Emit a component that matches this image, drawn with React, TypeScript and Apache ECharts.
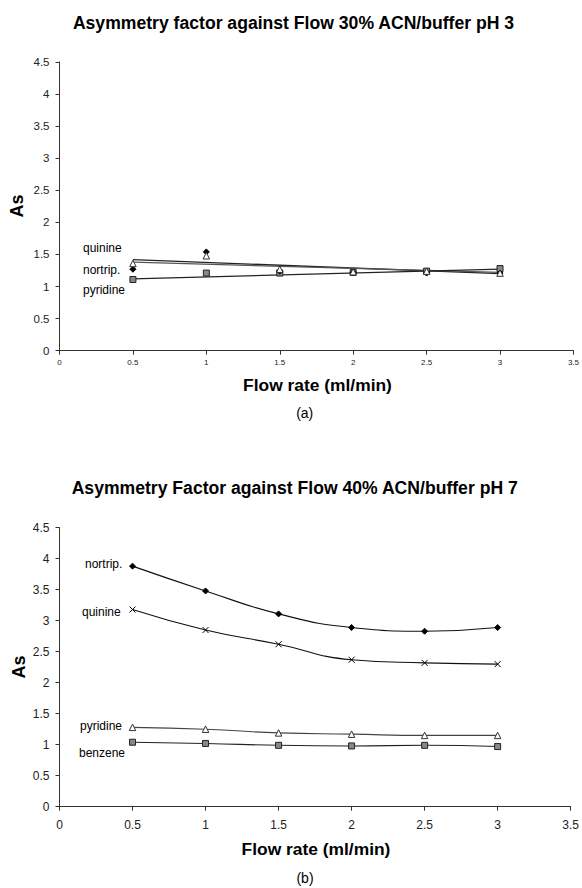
import React, { useEffect, useRef } from "react";
import * as echarts from "echarts";

// Flow rates (ml/min)
const flowRates = [0.5, 1, 1.5, 2, 2.5, 3];

// (a) 30% ACN / buffer pH 3
const topQuinine = [1.36, 1.48, 1.27, 1.23, 1.24, 1.21];
const topNortrip = [1.27, 1.54, 1.24, 1.22, 1.21, 1.21];
const topPyridine = [1.11, 1.21, 1.21, 1.22, 1.24, 1.28];
// linear trendline ends at x = 0.5 and x = 3
const trendX = [0.5, 3];
const topQuinineTrend = [1.42, 1.2];
const topNortripTrend = [1.38, 1.22];
const topPyridineTrend = [1.12, 1.27];

// (b) 40% ACN / buffer pH 7
const botNortrip = [3.88, 3.48, 3.11, 2.89, 2.83, 2.89];
const botQuinine = [3.18, 2.85, 2.62, 2.37, 2.32, 2.3];
const botPyridine = [1.28, 1.25, 1.19, 1.17, 1.15, 1.15];
const botBenzene = [1.04, 1.02, 0.99, 0.98, 0.99, 0.97];

const xTicksMax = 3.5;
const yTicksMax = 4.5;

const FONT = "'Liberation Sans', Arial, Helvetica, sans-serif";

const pairs = (xs: number[], ys: number[]) => xs.map((x, i) => [x, ys[i]]);

const XMARK = "path://M0,0L10,10M10,0L0,10";

function txt(
  text: string,
  x: number,
  y: number,
  size: number,
  weight: string,
  align: string,
  rotation = 0
) {
  return {
    type: "text",
    x,
    y,
    rotation,
    silent: true,
    style: {
      text,
      fill: "#000",
      font: `${weight} ${size}px ${FONT}`,
      fontSize: size,
      fontWeight: weight,
      fontFamily: FONT,
      textAlign: align,
      textVerticalAlign: "middle",
      align,
      verticalAlign: "middle",
    },
  };
}

export default function App() {
  const ref = useRef<HTMLDivElement>(null);
  useEffect(() => {
    document.body.style.margin = "0";
    if (!ref.current) return;
    const chart = echarts.init(ref.current, undefined, { renderer: "svg" });

    const axisCommon = (labelSize: number, margin: number) => ({
      type: "value",
      min: 0,
      interval: 0.5,
      axisLine: { show: true, lineStyle: { color: "#333", width: 1 } },
      axisTick: { show: true, length: 4, lineStyle: { color: "#333" } },
      splitLine: { show: false },
      axisLabel: {
        fontSize: labelSize,
        color: "#222",
        fontFamily: FONT,
        margin,
      },
    });

    const marker = (
      symbol: string,
      size: number,
      fill: string,
      border: string
    ) => ({
      symbol,
      symbolSize: size,
      itemStyle: { color: fill, borderColor: border, borderWidth: 1 },
    });

    const pointSeries = (
      idx: number,
      data: number[],
      m: any,
      name: string
    ) => ({
      name,
      type: "line",
      xAxisIndex: idx,
      yAxisIndex: idx,
      data: pairs(flowRates, data),
      lineStyle: { width: 0, opacity: 0 },
      showSymbol: true,
      z: 3,
      ...m,
    });

    const trendSeries = (data: number[], color: string) => ({
      type: "line",
      xAxisIndex: 0,
      yAxisIndex: 0,
      data: pairs(trendX, data),
      showSymbol: false,
      symbol: "none",
      lineStyle: { color, width: 1.3 },
      z: 2,
    });

    const curveSeries = (
      data: number[],
      m: any,
      name: string,
      color: string
    ) => ({
      name,
      type: "line",
      xAxisIndex: 1,
      yAxisIndex: 1,
      data: pairs(flowRates, data),
      smooth: 0.5,
      showSymbol: true,
      lineStyle: { color, width: 1.1 },
      ...m,
    });

    const triangle = marker("triangle", 6.5, "#fff", "#333");
    const diamond = marker("diamond", 6, "#000", "#000");
    const square = marker("rect", 6, "#888", "#222");
    const xmark = {
      symbol: XMARK,
      symbolSize: 6,
      itemStyle: { color: "transparent", borderColor: "#000", borderWidth: 1 },
    };

    chart.setOption({
      animation: false,
      backgroundColor: "#fff",
      grid: [
        { left: 59.5, top: 62, width: 516.5, height: 288.7 },
        { left: 59.5, top: 527.7, width: 513.5, height: 279 },
      ],
      xAxis: [
        { ...axisCommon(8, 8), gridIndex: 0, max: xTicksMax },
        { ...axisCommon(12, 12), gridIndex: 1, max: xTicksMax },
      ],
      yAxis: [
        { ...axisCommon(11.5, 10), gridIndex: 0, max: yTicksMax },
        { ...axisCommon(12, 10), gridIndex: 1, max: yTicksMax },
      ],
      series: [
        trendSeries(topQuinineTrend, "#222"),
        trendSeries(topNortripTrend, "#555"),
        trendSeries(topPyridineTrend, "#222"),
        pointSeries(0, topPyridine, square, "pyridine (a)"),
        pointSeries(0, topNortrip, diamond, "nortrip. (a)"),
        pointSeries(0, topQuinine, triangle, "quinine (a)"),
        curveSeries(botNortrip, diamond, "nortrip. (b)", "#111"),
        curveSeries(botQuinine, xmark, "quinine (b)", "#111"),
        curveSeries(botPyridine, triangle, "pyridine (b)", "#444"),
        curveSeries(botBenzene, square, "benzene (b)", "#222"),
      ],
      graphic: [
        txt(
          "Asymmetry factor against Flow 30% ACN/buffer pH 3",
          293.5,
          23,
          17.6,
          "bold",
          "center"
        ),
        txt("As", 17, 206, 18, "bold", "center", Math.PI / 2),
        txt("Flow rate (ml/min)", 317.5, 384.5, 17.4, "bold", "center"),
        txt("(a)", 304.7, 413.3, 14, "normal", "center"),
        txt("quinine", 83, 248, 12, "normal", "left"),
        txt("nortrip.", 83, 269.5, 12, "normal", "left"),
        txt("pyridine", 83, 290, 12, "normal", "left"),

        txt(
          "Asymmetry Factor against Flow 40% ACN/buffer pH 7",
          294.7,
          488.3,
          17.6,
          "bold",
          "center"
        ),
        txt("As", 19, 667, 18, "bold", "center", Math.PI / 2),
        txt("Flow rate (ml/min)", 316, 849, 17.4, "bold", "center"),
        txt("(b)", 305, 878, 14, "normal", "center"),
        txt("nortrip.", 85, 564, 12, "normal", "left"),
        txt("quinine", 82, 612, 12, "normal", "left"),
        txt("pyridine", 80, 726, 12, "normal", "left"),
        txt("benzene", 79, 753, 12, "normal", "left"),
      ],
    });
    return () => chart.dispose();
  }, []);
  return <div ref={ref} style={{ width: 582, height: 888 }} />;
}
